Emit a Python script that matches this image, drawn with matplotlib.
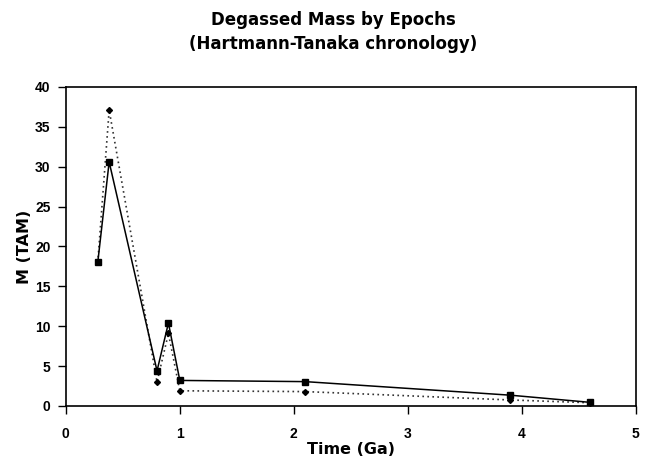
import matplotlib
matplotlib.use("Agg")
import matplotlib.pyplot as plt

# podaci ocitani sa slike
vrijeme_puna = [0.28, 0.38, 0.80, 0.90, 1.00, 2.10, 3.90, 4.60]
masa_puna = [18.0, 30.6, 4.4, 10.4, 3.2, 3.05, 1.35, 0.45]

vrijeme_tocke = [0.28, 0.38, 0.80, 0.90, 1.00, 2.10, 3.90, 4.60]
masa_tocke = [18.0, 37.1, 3.0, 9.1, 1.9, 1.8, 0.75, 0.4]

x_ticks = [0, 1, 2, 3, 4, 5]
y_ticks = [0, 5, 10, 15, 20, 25, 30, 35, 40]

plt.rcParams["font.family"] = ["Liberation Sans", "DejaVu Sans"]
plt.rcParams["font.weight"] = "bold"
siroki = ["DejaVu Sans"]  # sirji font za naslove i oznake osi

fig = plt.figure(figsize=(6.52, 4.65), dpi=100)
ax = fig.add_axes([0.101, 0.127, 0.874, 0.686])

ax.plot(vrijeme_tocke, masa_tocke, color="#333333", linestyle=(0, (1, 2)),
        linewidth=1.2, marker="D", markersize=3, markerfacecolor="black",
        markeredgecolor="black")
ax.plot(vrijeme_puna, masa_puna, color="black", linestyle="-", linewidth=1.1,
        marker="s", markersize=4.5, markerfacecolor="black",
        markeredgecolor="black")

ax.set_xlim(0, 5)
ax.set_ylim(0, 40)
ax.set_xticks(x_ticks)
ax.set_yticks(y_ticks)
ax.tick_params(direction="out", length=6, width=1, labelsize=10)
ax.tick_params(axis="x", pad=9)
ax.tick_params(axis="y", pad=5)
for s in ax.spines.values():
    s.set_linewidth(1.2)

ax.set_xlabel("Time (Ga)", fontsize=11.5, fontweight="bold", family=siroki,
              labelpad=1)
ax.set_ylabel("M (TAM)", fontsize=11.5, fontweight="bold", family=siroki,
              labelpad=2)
fig.text(0.511, 0.958, "Degassed Mass by Epochs", ha="center", va="center",
         fontsize=12, fontweight="bold", family=siroki)
fig.text(0.511, 0.906, "(Hartmann-Tanaka chronology)", ha="center",
         va="center", fontsize=12, fontweight="bold", family=siroki)

fig.savefig("out.png", dpi=100)
